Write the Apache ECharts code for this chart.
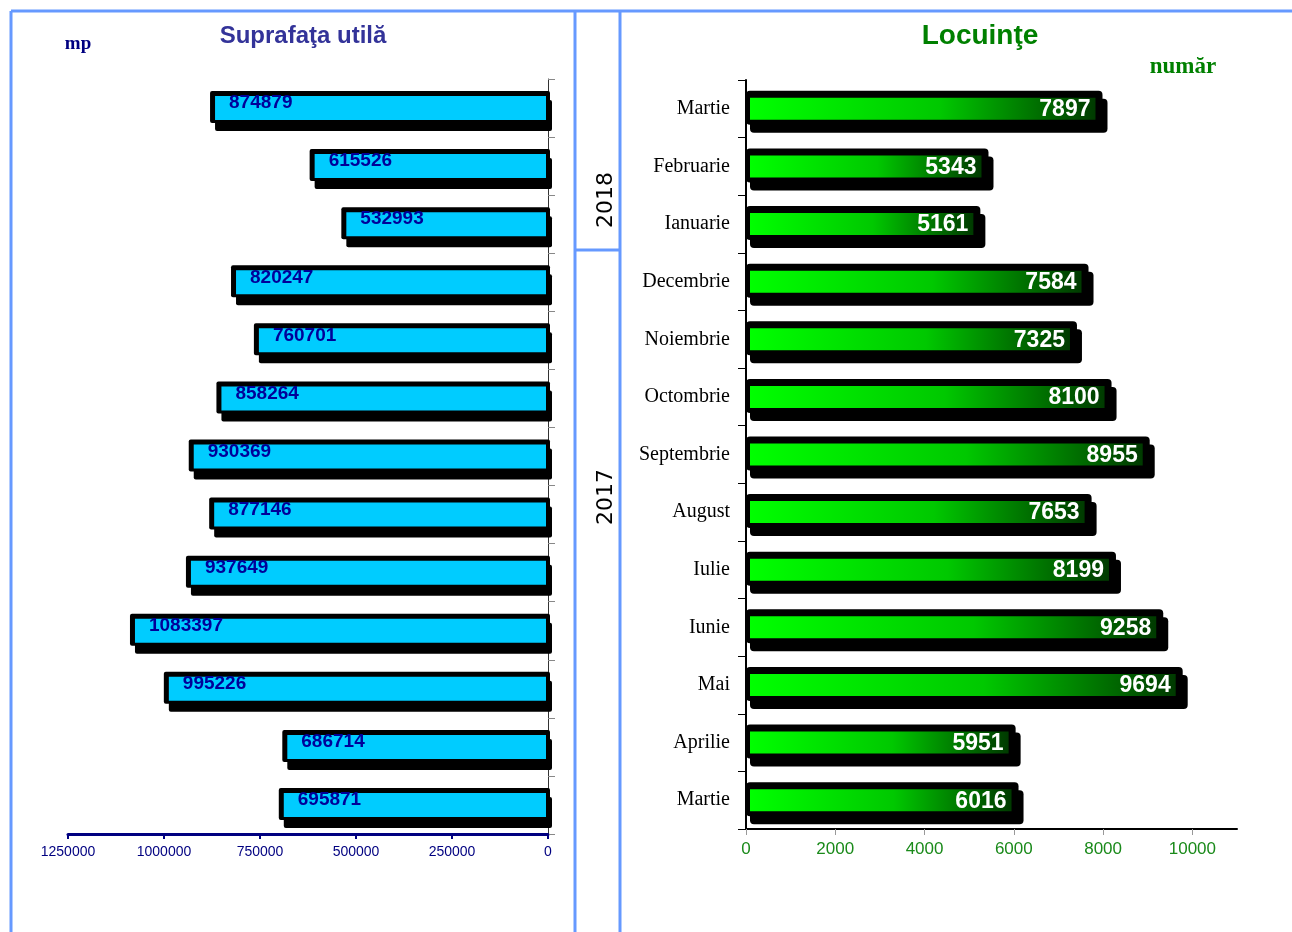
<!DOCTYPE html>
<html><head><meta charset="utf-8">
<script src="https://cdn.jsdelivr.net/npm/echarts@6/dist/echarts.min.js"></script>
<style>html,body{margin:0;padding:0;background:#fff}#c{width:1292px;height:932px}</style>
</head><body><div id="c"></div>
<script>
// categories top to bottom
const months = ['Martie','Februarie','Ianuarie','Decembrie','Noiembrie','Octombrie','Septembrie','August','Iulie','Iunie','Mai','Aprilie','Martie'];
const suprafata = [874879,615526,532993,820247,760701,858264,930369,877146,937649,1083397,995226,686714,695871];
const locuinte = [7897,5343,5161,7584,7325,8100,8955,7653,8199,9258,9694,5951,6016];
const leftTicks = [0,250000,500000,750000,1000000,1250000];
const rightTicks = [0,2000,4000,6000,8000,10000];
const years = ['2018','2017'];

const chart = echarts.init(document.getElementById('c'));
const frame = '#6699ff';

function leftItem(params, api){
  const i = api.value(0), v = api.value(1);
  const p0 = api.coord([0, i]), p1 = api.coord([v, i]);
  const cy = p0[1];
  const xL = p1[0], xR = p0[0];
  return {type:'group',children:[
    {type:'rect',shape:{x:xL+3,y:cy-8,width:xR-xL+1,height:31,r:2},style:{fill:'#000'}},
    {type:'rect',shape:{x:xL-2,y:cy-17,width:xR-xL+4,height:32,r:2},style:{fill:'#000'}},
    {type:'rect',shape:{x:xL+3,y:cy-12,width:xR-xL-5,height:24},style:{fill:'#00ccff'}},
    {type:'text',x:xL+17,y:cy-5,style:{text:String(v),fill:'#000099',fontFamily:'Liberation Sans',fontSize:19,fontWeight:'bold',align:'left',verticalAlign:'middle'}}
  ]};
}
function rightItem(params, api){
  const i = api.value(0), v = api.value(1);
  const p0 = api.coord([0, i]), p1 = api.coord([v, i]);
  const cy = p0[1];
  const x0 = p0[0], x1 = p1[0];
  return {type:'group',children:[
    {type:'rect',shape:{x:x0+4,y:cy-10,width:x1-x0+5,height:34,r:4},style:{fill:'#000'}},
    {type:'rect',shape:{x:x0,y:cy-18,width:x1-x0+4,height:34,r:4},style:{fill:'#000'}},
    {type:'rect',shape:{x:x0+4,y:cy-11,width:x1-x0-7,height:22},
      style:{fill:new echarts.graphic.LinearGradient(0,0,1,0,[{offset:0,color:'#00ff00'},{offset:0.55,color:'#00c800'},{offset:1,color:'#003a00'}])}},
    {type:'text',x:x1-8,y:cy+1,style:{text:String(v),fill:'#fff',fontFamily:'Liberation Sans',fontSize:23,fontWeight:'bold',align:'right',verticalAlign:'middle'}}
  ]};
}

chart.setOption({
  animation:false,
  title:[
    {text:'Suprafaţa utilă',left:298,top:19,textAlign:'center',textStyle:{fontFamily:'Liberation Sans',fontSize:24,fontWeight:'bold',color:'#333399'}},
    {text:'Locuinţe',left:975,top:17,textAlign:'center',textStyle:{fontFamily:'Liberation Sans',fontSize:28,fontWeight:'bold',color:'#008000'}}
  ],
  graphic:[
    {type:'line',shape:{x1:11,y1:11,x2:1292,y2:11},style:{stroke:frame,lineWidth:3}},
    {type:'line',shape:{x1:11,y1:11,x2:11,y2:932},style:{stroke:frame,lineWidth:3}},
    {type:'line',shape:{x1:575,y1:11,x2:575,y2:932},style:{stroke:frame,lineWidth:3}},
    {type:'line',shape:{x1:620,y1:11,x2:620,y2:932},style:{stroke:frame,lineWidth:3}},
    {type:'line',shape:{x1:575,y1:250,x2:620,y2:250},style:{stroke:frame,lineWidth:3}},
    {type:'text',x:606,y:200,rotation:Math.PI/2,style:{text:years[0],fontFamily:'DejaVu Sans',fontSize:22,fill:'#000',align:'center',verticalAlign:'middle'}},
    {type:'text',x:606,y:497,rotation:Math.PI/2,style:{text:years[1],fontFamily:'DejaVu Sans',fontSize:22,fill:'#000',align:'center',verticalAlign:'middle'}},
    {type:'text',x:78,y:44,style:{text:'mp',fontFamily:'Liberation Serif',fontSize:19,fontWeight:'bold',fill:'#000080',align:'center',verticalAlign:'middle'}},
    {type:'text',x:1183,y:67,style:{text:'număr',fontFamily:'Liberation Serif',fontSize:23,fontWeight:'bold',fill:'#008000',align:'center',verticalAlign:'middle'}}
  ],
  grid:[
    {left:68,right:744,top:79,bottom:98},
    {left:746,right:55,top:80,bottom:103}
  ],
  xAxis:[
    {gridIndex:0,type:'value',inverse:true,min:leftTicks[0],max:leftTicks[leftTicks.length-1],interval:leftTicks[1]-leftTicks[0],
     splitLine:{show:false},
     axisLine:{show:true,lineStyle:{color:'#000080',width:3}},
     axisTick:{show:true,length:5,lineStyle:{color:'#000080',width:2}},
     axisLabel:{color:'#000080',fontFamily:'Liberation Sans',fontSize:14,margin:11,formatter:v=>String(v)}},
    {gridIndex:1,type:'value',min:0,max:11000,interval:rightTicks[1]-rightTicks[0],
     splitLine:{show:false},
     axisLine:{show:true,lineStyle:{color:'#000',width:2}},
     axisTick:{show:true,length:6,lineStyle:{color:'#999',width:1}},
     axisLabel:{color:'#1a8a1a',fontFamily:'Liberation Sans',fontSize:17,margin:12,showMaxLabel:false,
       formatter:v=>rightTicks.indexOf(v)>=0?String(v):''}}
  ],
  yAxis:[
    {gridIndex:0,type:'category',position:'right',inverse:true,data:months,
     axisLine:{show:true,lineStyle:{color:'#333',width:1}},
     axisTick:{show:true,inside:false,length:7,lineStyle:{color:'#888'}},
     axisLabel:{show:false}},
    {gridIndex:1,type:'category',inverse:true,data:months,
     axisLine:{show:true,lineStyle:{color:'#000',width:2}},
     axisTick:{show:true,length:8,lineStyle:{color:'#000'}},
     axisLabel:{color:'#000',fontFamily:'Liberation Serif',fontSize:20,margin:16}}
  ],
  series:[
    {type:'custom',xAxisIndex:0,yAxisIndex:0,renderItem:leftItem,encode:{x:1,y:0},
     data:suprafata.map((v,i)=>[i,v]),clip:false},
    {type:'custom',xAxisIndex:1,yAxisIndex:1,renderItem:rightItem,encode:{x:1,y:0},
     data:locuinte.map((v,i)=>[i,v]),clip:false}
  ]
});
</script></body></html>
